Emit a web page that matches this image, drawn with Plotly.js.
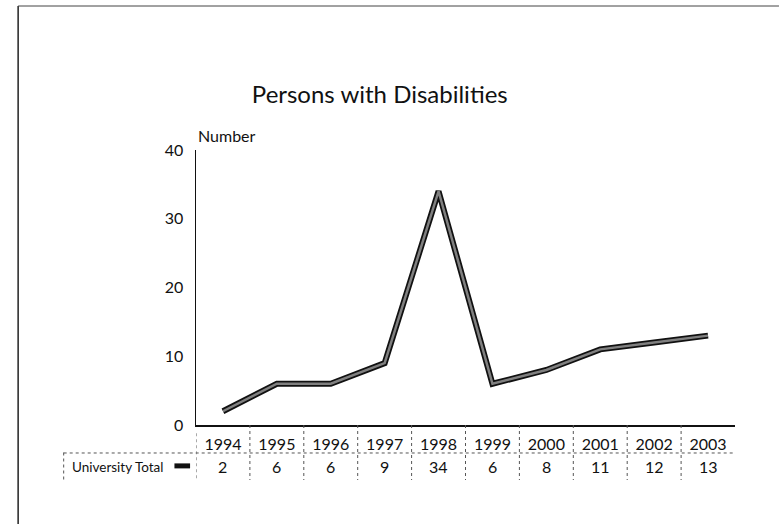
<!DOCTYPE html>
<html>
<head>
<meta charset="utf-8">
<script src="https://cdn.plot.ly/plotly-3.0.1.min.js"></script>
<style>html,body{margin:0;padding:0;background:#fff;}#chart{width:779px;height:524px;}</style>
</head>
<body>
<div id="chart"></div>
<script>
const years = ["1994","1995","1996","1997","1998","1999","2000","2001","2002","2003"];
const universityTotal = [2, 6, 6, 9, 34, 6, 8, 11, 12, 13];
const seriesName = "University Total";
const chartTitle = "Persons with Disabilities";
const yAxisLabel = "Number";
const yTicks = [0, 10, 20, 30, 40];

const FONT = "Lato, 'DejaVu Sans', sans-serif";

const traces = [
  {x: years, y: universityTotal, type: "scatter", mode: "lines",
   line: {color: "#111", width: 6}, hoverinfo: "skip", showlegend: false},
  {x: years, y: universityTotal, type: "scatter", mode: "lines", name: seriesName,
   line: {color: "#808080", width: 2.5}, showlegend: false}
];

const rowY = -0.1527;
const annotations = years.map((yr, i) => ({
  x: i, xref: "x", y: rowY, yref: "paper", text: String(universityTotal[i]),
  showarrow: false, xanchor: "center", yanchor: "middle",
  font: {family: FONT, size: 16, color: "#111"}
}));
annotations.push({x: 0, xref: "paper", y: 1.0545, yref: "paper", text: yAxisLabel,
  showarrow: false, xanchor: "left", yanchor: "middle", font: {family: FONT, size: 16, color: "#111"}});
annotations.push({x: -0.2338, xref: "paper", y: rowY, yref: "paper", text: seriesName,
  showarrow: false, xanchor: "left", yanchor: "middle", font: {family: FONT, size: 13.5, color: "#111"}});

const dash = {color: "#555", width: 1, dash: "dot"};
const shapes = [];
for (let i = 0; i < years.length - 1; i++) {
  shapes.push({type: "line", xref: "x", yref: "paper", x0: i + 0.5, x1: i + 0.5, y0: 0, y1: -0.2, line: dash});
}
shapes.push({type: "line", xref: "x", yref: "paper", x0: -0.5, x1: -0.5, y0: -0.03, y1: -0.2, line: dash});
shapes.push({type: "line", xref: "paper", yref: "paper", x0: -0.2455, x1: -0.2455, y0: -0.1, y1: -0.2, line: dash});
shapes.push({type: "line", xref: "paper", yref: "paper", x0: -0.2455, x1: 1, y0: -0.1018, y1: -0.1018, line: dash});
shapes.push({type: "line", xref: "paper", yref: "paper", x0: -0.040, x1: -0.011, y0: rowY + 0.004, y1: rowY + 0.004,
  line: {color: "#111", width: 5}});
shapes.push({type: "line", xref: "paper", yref: "paper", x0: -0.330, x1: -0.330, y0: 1.5236, y1: -0.36, line: {color: "#222", width: 1.5}});
shapes.push({type: "line", xref: "paper", yref: "paper", x0: -0.330, x1: 1.0816, y0: 1.5236, y1: 1.5236, line: {color: "#444", width: 1}});

const layout = {
  width: 779, height: 524,
  margin: {l: 196, r: 44, t: 150, b: 99},
  paper_bgcolor: "#fff", plot_bgcolor: "#fff",
  title: {text: chartTitle, x: 0.341, xref: "paper", xanchor: "center", y: 0.8187, yref: "container", yanchor: "middle",
    font: {family: FONT, size: 24, color: "#111"}},
  showlegend: false,
  xaxis: {type: "category", range: [-0.5, 9.5], showgrid: false, zeroline: false,
    showline: true, linecolor: "#111", linewidth: 1.5, ticks: "outside", ticklen: 4, tickcolor: "rgba(0,0,0,0)",
    tickfont: {family: FONT, size: 16, color: "#111"}, fixedrange: true},
  yaxis: {range: [0, 40], tickvals: yTicks, showgrid: false, zeroline: false,
    showline: true, linecolor: "#111", linewidth: 1.5, ticks: "outside", ticklen: 8, tickcolor: "rgba(0,0,0,0)",
    tickfont: {family: FONT, size: 16, color: "#111"}, fixedrange: true},
  annotations: annotations,
  shapes: shapes
};

Plotly.newPlot("chart", traces, layout, {displayModeBar: false, staticPlot: true});
</script>
</body>
</html>
